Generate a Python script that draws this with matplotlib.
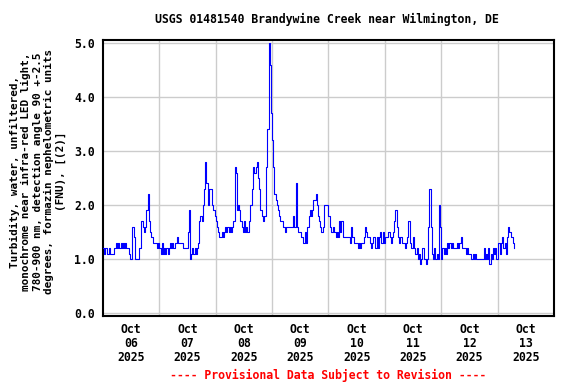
import matplotlib
matplotlib.use("Agg")
import matplotlib.pyplot as plt
import pandas as pd

title = "USGS 01481540 Brandywine Creek near Wilmington, DE"
ylabel = ("Turbidity, water, unfiltered,\n"
          "monochrome near infra-red LED light,\n"
          "780-900 nm, detection angle 90 +-2.5\n"
          "degrees, formazin nephelometric units\n"
          "(FNU), [(2)]")
footer = "---- Provisional Data Subject to Revision ----"
start = "2025-10-06 00:00"
freq = "30min"
# turbidity values, FNU, every 30 minutes from start
turbidity = [
    1.2, 1.1, 1.2, 1.1, 1.1, 1.2, 1.1, 1.1, 1.1, 1.2, 1.2, 1.3, 1.2, 1.3, 1.2, 1.3,
    1.2, 1.3, 1.2, 1.3, 1.2, 1.2, 1.1, 1.0, 1.0, 1.6, 1.4, 1.0, 1.0, 1.0, 1.0, 1.2,
    1.7, 1.7, 1.6, 1.5, 1.6, 1.9, 2.2, 1.7, 1.5, 1.4, 1.4, 1.3, 1.3, 1.3, 1.2, 1.3,
    1.2, 1.1, 1.3, 1.1, 1.2, 1.1, 1.2, 1.1, 1.2, 1.3, 1.2, 1.3, 1.2, 1.3, 1.3, 1.4,
    1.3, 1.3, 1.3, 1.3, 1.2, 1.2, 1.2, 1.2, 1.5, 1.9, 1.0, 1.1, 1.2, 1.1, 1.2, 1.1,
    1.2, 1.3, 1.7, 1.8, 1.7, 2.0, 2.3, 2.8, 2.4, 2.0, 2.3, 2.3, 2.3, 2.0, 1.9, 1.8,
    1.7, 1.6, 1.5, 1.4, 1.4, 1.5, 1.4, 1.5, 1.6, 1.5, 1.6, 1.5, 1.6, 1.5, 1.6, 1.7,
    2.7, 2.6, 1.9, 2.0, 1.9, 1.7, 1.6, 1.5, 1.7, 1.5, 1.6, 1.5, 1.7, 2.0, 2.0, 2.3,
    2.7, 2.6, 2.7, 2.8, 2.5, 2.3, 1.9, 1.8, 1.7, 1.8, 1.8, 2.7, 3.4, 5.0, 4.6, 3.7,
    3.2, 2.7, 2.2, 2.1, 2.0, 1.9, 1.8, 1.7, 1.7, 1.6, 1.6, 1.5, 1.6, 1.6, 1.6, 1.6,
    1.6, 1.6, 1.8, 1.6, 2.4, 1.6, 1.5, 1.5, 1.5, 1.4, 1.3, 1.3, 1.5, 1.3, 1.6, 1.8,
    1.9, 1.8, 1.9, 2.1, 2.1, 2.2, 2.0, 1.8, 1.7, 1.6, 1.5, 1.6, 2.0, 2.0, 2.0, 2.0,
    1.8, 1.6, 1.5, 1.5, 1.6, 1.5, 1.4, 1.5, 1.4, 1.7, 1.5, 1.7, 1.4, 1.4, 1.4, 1.4,
    1.4, 1.4, 1.3, 1.6, 1.4, 1.4, 1.3, 1.3, 1.3, 1.2, 1.3, 1.2, 1.3, 1.3, 1.4, 1.6,
    1.5, 1.4, 1.4, 1.3, 1.2, 1.3, 1.4, 1.4, 1.2, 1.4, 1.2, 1.4, 1.5, 1.3, 1.5, 1.3,
    1.4, 1.4, 1.4, 1.5, 1.4, 1.3, 1.4, 1.5, 1.7, 1.9, 1.6, 1.4, 1.3, 1.4, 1.4, 1.3,
    1.3, 1.2, 1.3, 1.4, 1.7, 1.3, 1.2, 1.2, 1.4, 1.2, 1.1, 1.2, 1.0, 1.1, 0.9, 1.0,
    1.2, 1.0, 1.0, 0.9, 1.0, 1.6, 2.3, 1.6, 1.1, 1.0, 1.2, 1.0, 1.1, 1.0, 2.0, 1.6,
    1.0, 1.2, 1.1, 1.2, 1.1, 1.3, 1.2, 1.3, 1.2, 1.3, 1.2, 1.2, 1.2, 1.3, 1.2, 1.3,
    1.3, 1.4, 1.2, 1.2, 1.2, 1.1, 1.2, 1.1, 1.1, 1.0, 1.0, 1.1, 1.0, 1.1, 1.0, 1.0,
    1.0, 1.0, 1.0, 1.0, 1.2, 1.0, 1.1, 1.0, 1.2, 0.9, 1.1, 1.0, 1.2, 1.1, 1.2, 1.0,
    1.3, 1.3, 1.1, 1.3, 1.4, 1.2, 1.3, 1.1, 1.4, 1.6, 1.5, 1.4, 1.4, 1.3, 1.2,
]
y_ticks = [0.0, 1.0, 2.0, 3.0, 4.0, 5.0]
day_labels = ["Oct\n06\n2025", "Oct\n07\n2025", "Oct\n08\n2025", "Oct\n09\n2025",
              "Oct\n10\n2025", "Oct\n11\n2025", "Oct\n12\n2025", "Oct\n13\n2025"]

times = pd.date_range(start, periods=len(turbidity), freq=freq)
day0 = pd.Timestamp("2025-10-06")
day_starts = pd.date_range(day0, periods=9, freq="D")
noons = day_starts[:-1] + pd.Timedelta(hours=12)

mono = "DejaVu Sans Mono"
fig = plt.figure(figsize=(5.76, 3.84), dpi=100)
ax = fig.add_axes([0.1788, 0.1779, 0.9618 - 0.1788, 0.8971 - 0.1779])

ax.plot(times, turbidity, color="#0000ff", lw=0.8, drawstyle="steps-post", zorder=3)

ax.set_xlim(day_starts[0], day_starts[-1])
ax.set_ylim(-0.05, 5.065)

ax.set_yticks(y_ticks)
ax.set_yticklabels([f"{v:.1f}" for v in y_ticks], fontfamily=mono,
                   fontweight="bold", fontsize=8.3)
ax.set_xticks(noons)
ax.set_xticklabels(day_labels, fontfamily=mono, fontweight="bold", fontsize=8.3,
                   linespacing=1.1)
ax.set_xticks(day_starts[1:-1], minor=True)
ax.tick_params(axis="both", which="both", length=0)
ax.tick_params(axis="x", which="major", pad=5)
ax.tick_params(axis="y", pad=6)

for v in y_ticks:
    ax.axhline(v, color="#cccccc", lw=1.0, zorder=1)
for d in day_starts[1:-1]:
    ax.axvline(d, color="#cccccc", lw=1.0, zorder=1)

for s in ax.spines.values():
    s.set_linewidth(1.5)
    s.set_color("black")

fig.text(0.568, 0.949, title, ha="center", va="center", fontfamily=mono,
         fontweight="bold", fontsize=8.3)
fig.text(0.066, 0.553, ylabel, ha="center", va="center", rotation=90,
         multialignment="center", fontfamily=mono, fontweight="bold",
         fontsize=7.9, linespacing=1.18)
fig.text(0.569, 0.023, footer, ha="center", va="center", fontfamily=mono,
         fontweight="bold", fontsize=8.3, color="#ff0000")

fig.savefig("out.png", dpi=100)
